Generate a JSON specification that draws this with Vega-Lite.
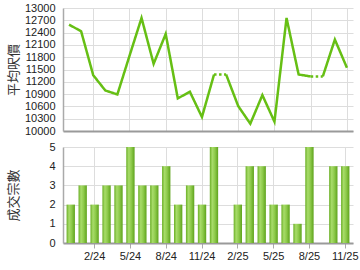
{
  "$schema": "https://vega.github.io/schema/vega-lite/v6.json",
  "padding": {"left": 6, "top": 2, "right": 6, "bottom": 4},
  "spacing": 5,
  "datasets": {
    "price": [
      {"i": 0, "month": "12/23", "price": 12595, "seg": "a", "kind": "actual"},
      {"i": 1, "month": "1/24", "price": 12432, "seg": "a", "kind": "actual"},
      {"i": 2, "month": "2/24", "price": 11362, "seg": "a", "kind": "actual"},
      {"i": 3, "month": "3/24", "price": 10989, "seg": "a", "kind": "actual"},
      {"i": 4, "month": "4/24", "price": 10892, "seg": "a", "kind": "actual"},
      {"i": 5, "month": "5/24", "price": 11830, "seg": "a", "kind": "actual"},
      {"i": 6, "month": "6/24", "price": 12757, "seg": "a", "kind": "actual"},
      {"i": 7, "month": "7/24", "price": 11638, "seg": "a", "kind": "actual"},
      {"i": 8, "month": "8/24", "price": 12368, "seg": "a", "kind": "actual"},
      {"i": 9, "month": "9/24", "price": 10795, "seg": "a", "kind": "actual"},
      {"i": 10, "month": "10/24", "price": 10957, "seg": "a", "kind": "actual"},
      {"i": 11, "month": "11/24", "price": 10341, "seg": "a", "kind": "actual"},
      {"i": 12, "month": "12/24", "price": 11378, "seg": "a", "kind": "actual"},
      {"i": 12, "month": "12/24", "price": 11378, "seg": "b", "kind": "carried"},
      {"i": 13, "month": "1/25", "price": 11378, "seg": "b", "kind": "carried"},
      {"i": 13, "month": "1/25", "price": 11378, "seg": "c", "kind": "actual"},
      {"i": 14, "month": "2/25", "price": 10608, "seg": "c", "kind": "actual"},
      {"i": 15, "month": "3/25", "price": 10178, "seg": "c", "kind": "actual"},
      {"i": 16, "month": "4/25", "price": 10876, "seg": "c", "kind": "actual"},
      {"i": 17, "month": "5/25", "price": 10227, "seg": "c", "kind": "actual"},
      {"i": 18, "month": "6/25", "price": 12757, "seg": "c", "kind": "actual"},
      {"i": 19, "month": "7/25", "price": 11378, "seg": "c", "kind": "actual"},
      {"i": 20, "month": "8/25", "price": 11330, "seg": "c", "kind": "actual"},
      {"i": 20, "month": "8/25", "price": 11330, "seg": "d", "kind": "carried"},
      {"i": 21, "month": "9/25", "price": 11330, "seg": "d", "kind": "carried"},
      {"i": 21, "month": "9/25", "price": 11330, "seg": "e", "kind": "actual"},
      {"i": 22, "month": "10/25", "price": 12230, "seg": "e", "kind": "actual"},
      {"i": 23, "month": "11/25", "price": 11541, "seg": "e", "kind": "actual"}
    ],
    "deals": [
      {"month": "12/23", "count": 2},
      {"month": "1/24", "count": 3},
      {"month": "2/24", "count": 2},
      {"month": "3/24", "count": 3},
      {"month": "4/24", "count": 3},
      {"month": "5/24", "count": 5},
      {"month": "6/24", "count": 3},
      {"month": "7/24", "count": 3},
      {"month": "8/24", "count": 4},
      {"month": "9/24", "count": 2},
      {"month": "10/24", "count": 3},
      {"month": "11/24", "count": 2},
      {"month": "12/24", "count": 5},
      {"month": "1/25", "count": 0},
      {"month": "2/25", "count": 2},
      {"month": "3/25", "count": 4},
      {"month": "4/25", "count": 4},
      {"month": "5/25", "count": 2},
      {"month": "6/25", "count": 2},
      {"month": "7/25", "count": 1},
      {"month": "8/25", "count": 5},
      {"month": "9/25", "count": 0},
      {"month": "10/25", "count": 4},
      {"month": "11/25", "count": 4}
    ]
  },
  "vconcat": [
    {
      "width": 290,
      "height": 123,
      "data": {"name": "price"},
      "mark": {"type": "line", "color": "#66bf14", "strokeWidth": 2.5},
      "encoding": {
        "x": {
          "field": "month", "type": "ordinal",
          "scale": {"domain": ["12/23","1/24","2/24","3/24","4/24","5/24","6/24","7/24","8/24","9/24","10/24","11/24","12/24","1/25","2/25","3/25","4/25","5/25","6/25","7/25","8/25","9/25","10/25","11/25"], "paddingInner": 0.3, "paddingOuter": 0.3},
          "axis": {"title": null, "labels": false, "ticks": false, "values": ["2/24","5/24","8/24","11/24","2/25","5/25","8/25","11/25"], "grid": true, "bandPosition": 0.5, "domainColor": "#9a9a9a", "domainWidth": 2}
        },
        "y": {
          "field": "price", "type": "quantitative",
          "scale": {"domain": [10000, 13000], "nice": false, "zero": false},
          "axis": {"title": "平均呎價", "values": [10000,10300,10600,10900,11200,11500,11800,12100,12400,12700,13000], "format": "d", "ticks": false, "labelPadding": 8, "domainColor": "#aaaaaa", "domainWidth": 1.5, "titleX": -43}
        },
        "order": {"field": "i", "type": "quantitative"},
        "detail": {"field": "seg"},
        "strokeDash": {"field": "kind", "type": "nominal", "scale": {"domain": ["actual", "carried"], "range": [[1, 0], [2.5, 2.5]]}, "legend": null}
      }
    },
    {
      "width": 290,
      "height": 96,
      "data": {"name": "deals"},
      "mark": {
        "type": "bar",
        "color": {"gradient": "linear", "x1": 0, "x2": 1, "y1": 0, "y2": 0,
          "stops": [
            {"offset": 0, "color": "#6aaf25"},
            {"offset": 0.3, "color": "#a8dc6a"},
            {"offset": 0.6, "color": "#8fcb4c"},
            {"offset": 1, "color": "#5ea31c"}
          ]}
      },
      "encoding": {
        "x": {
          "field": "month", "type": "ordinal",
          "scale": {"domain": ["12/23","1/24","2/24","3/24","4/24","5/24","6/24","7/24","8/24","9/24","10/24","11/24","12/24","1/25","2/25","3/25","4/25","5/25","6/25","7/25","8/25","9/25","10/25","11/25"], "paddingInner": 0.3, "paddingOuter": 0.3},
          "axis": {"title": null, "labelAngle": 0, "values": ["2/24","5/24","8/24","11/24","2/25","5/25","8/25","11/25"], "grid": true, "bandPosition": 0.5, "tickSize": 5, "tickColor": "#aaaaaa", "labelPadding": 2, "domainColor": "#9a9a9a", "domainWidth": 2}
        },
        "y": {
          "field": "count", "type": "quantitative",
          "scale": {"domain": [0, 5], "nice": false},
          "axis": {"title": "成交宗數", "values": [0,1,2,3,4,5], "ticks": false, "labelPadding": 8, "domainColor": "#aaaaaa", "domainWidth": 1.5, "titleX": -43}
        }
      }
    }
  ],
  "config": {
    "view": {"stroke": null},
    "font": "Liberation Sans",
    "axis": {
      "labelFont": "Liberation Sans", "labelFontSize": 11, "labelColor": "#222222",
      "gridColor": "#dddddd", "gridWidth": 1,
      "titleFont": "Noto Sans CJK TC", "titleFontSize": 13, "titleFontWeight": "normal", "titleColor": "#333333"
    }
  }
}
